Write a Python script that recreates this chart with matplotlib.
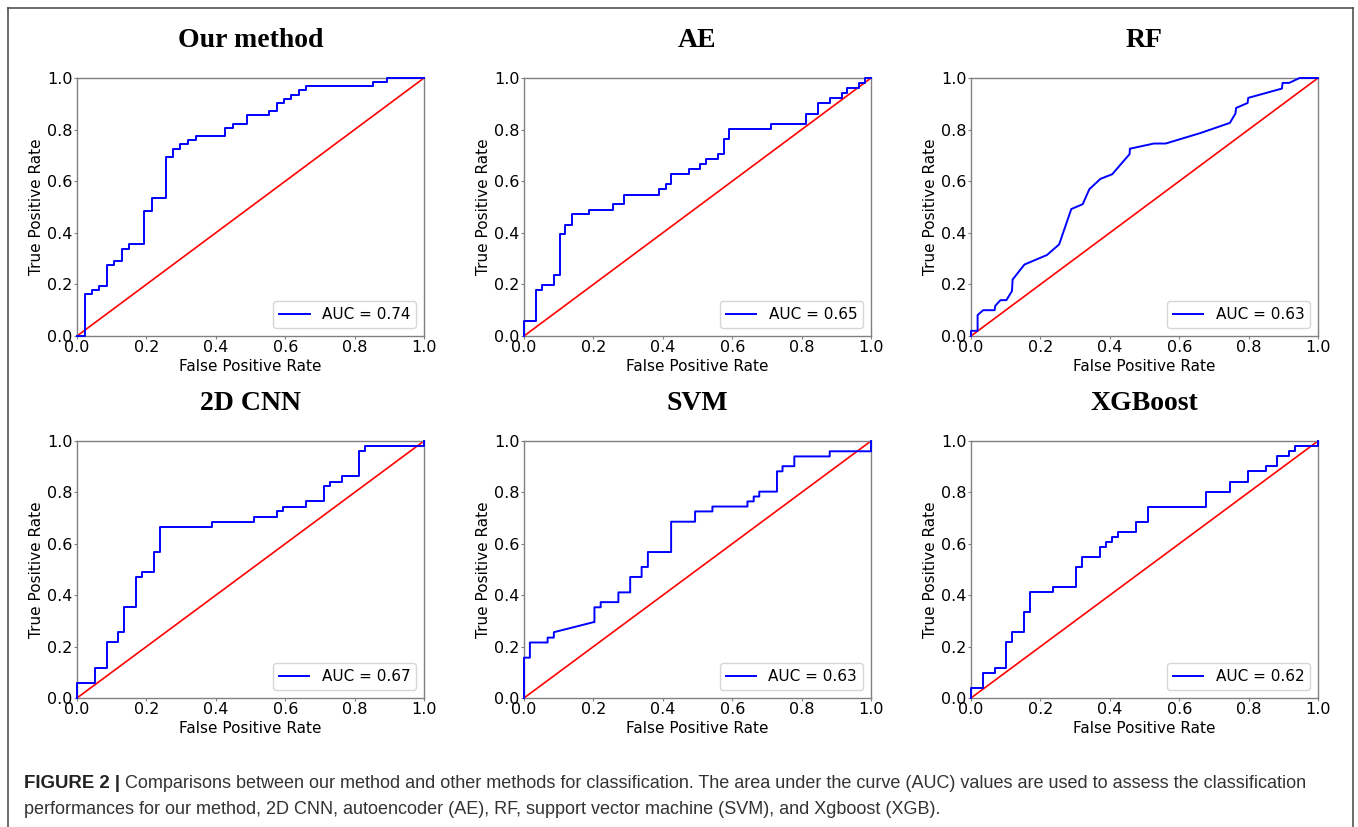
import numpy as np
import matplotlib.pyplot as plt
from matplotlib.lines import Line2D

# ROC curves
# step models: fpr = where tpr jumps, tpr = level after the jump
ours_fpr = [0, 0.023, 0.042, 0.064, 0.087, 0.108, 0.129, 0.149, 0.192, 0.215, 0.256, 0.277, 0.298, 0.320,
            0.343, 0.427, 0.449, 0.490, 0.553, 0.576, 0.597, 0.618, 0.639, 0.660, 0.852, 0.894, 1.0]
ours_tpr = [0, 0.161, 0.178, 0.195, 0.275, 0.292, 0.339, 0.356, 0.484, 0.534, 0.694, 0.726, 0.743, 0.759,
            0.774, 0.806, 0.823, 0.855, 0.871, 0.903, 0.920, 0.935, 0.952, 0.968, 0.983, 1.0, 1.0]

ae_fpr = [0, 0, 0.036, 0.052, 0.086, 0.103, 0.119, 0.137, 0.188, 0.256, 0.289, 0.390, 0.408, 0.424, 0.475,
          0.508, 0.525, 0.559, 0.575, 0.592, 0.712, 0.813, 0.847, 0.881, 0.915, 0.932, 0.965, 0.982, 1.0]
ae_tpr = [0, 0.059, 0.178, 0.196, 0.236, 0.394, 0.432, 0.471, 0.490, 0.510, 0.548, 0.569, 0.588, 0.627, 0.648,
          0.666, 0.686, 0.706, 0.765, 0.804, 0.823, 0.862, 0.902, 0.921, 0.942, 0.960, 0.979, 1.0, 1.0]

cnn_fpr = [0, 0, 0.052, 0.086, 0.119, 0.136, 0.170, 0.188, 0.221, 0.239, 0.390, 0.510, 0.577, 0.594, 0.661,
           0.712, 0.729, 0.763, 0.814, 0.831, 1.0]
cnn_tpr = [0, 0.058, 0.118, 0.216, 0.256, 0.353, 0.470, 0.490, 0.568, 0.666, 0.686, 0.705, 0.726, 0.745, 0.765,
           0.823, 0.842, 0.863, 0.960, 0.980, 1.0]

xgb_fpr = [0, 0, 0.034, 0.068, 0.101, 0.118, 0.152, 0.169, 0.236, 0.304, 0.321, 0.373, 0.390, 0.406, 0.423,
           0.475, 0.509, 0.678, 0.746, 0.797, 0.849, 0.882, 0.916, 0.933, 1.0]
xgb_tpr = [0, 0.040, 0.097, 0.118, 0.216, 0.256, 0.334, 0.411, 0.431, 0.510, 0.549, 0.587, 0.607, 0.627, 0.647,
           0.686, 0.745, 0.803, 0.842, 0.882, 0.902, 0.940, 0.961, 0.980, 1.0]

# these two have tied scores, so plain points joined by lines
rf_fpr = [0, 0, 0.019, 0.019, 0.035, 0.068, 0.070, 0.085, 0.102, 0.118, 0.120, 0.154, 0.219, 0.254, 0.289,
          0.322, 0.341, 0.373, 0.407, 0.457, 0.458, 0.527, 0.561, 0.662, 0.746, 0.762, 0.764, 0.797, 0.799,
          0.896, 0.898, 0.917, 0.947, 1.0]
rf_tpr = [0, 0.020, 0.020, 0.081, 0.100, 0.100, 0.117, 0.139, 0.139, 0.174, 0.219, 0.277, 0.314, 0.355, 0.492,
          0.511, 0.569, 0.609, 0.627, 0.705, 0.726, 0.746, 0.746, 0.787, 0.826, 0.862, 0.884, 0.903, 0.923,
          0.959, 0.981, 0.981, 1.0, 1.0]

svm_fpr = [0, 0, 0.017, 0.017, 0.068, 0.068, 0.086, 0.086, 0.200, 0.203, 0.203, 0.221, 0.221, 0.272, 0.272,
           0.306, 0.306, 0.339, 0.339, 0.357, 0.357, 0.424, 0.424, 0.493, 0.493, 0.543, 0.543, 0.644, 0.644,
           0.662, 0.662, 0.678, 0.678, 0.729, 0.729, 0.745, 0.745, 0.779, 0.779, 0.881, 0.881, 1.0, 1.0]
svm_tpr = [0, 0.157, 0.157, 0.216, 0.216, 0.235, 0.235, 0.256, 0.295, 0.295, 0.353, 0.353, 0.373, 0.373, 0.411,
           0.411, 0.471, 0.471, 0.510, 0.510, 0.568, 0.568, 0.686, 0.686, 0.726, 0.726, 0.745, 0.745, 0.765,
           0.765, 0.784, 0.784, 0.803, 0.803, 0.882, 0.882, 0.902, 0.902, 0.940, 0.940, 0.960, 0.960, 1.0]

names = ['Our method', 'AE', 'RF', '2D CNN', 'SVM', 'XGBoost']
aucs = [0.74, 0.65, 0.63, 0.67, 0.63, 0.62]
curves = [(ours_fpr, ours_tpr, 'step'), (ae_fpr, ae_tpr, 'step'), (rf_fpr, rf_tpr, 'line'),
          (cnn_fpr, cnn_tpr, 'step'), (svm_fpr, svm_tpr, 'line'), (xgb_fpr, xgb_tpr, 'step')]

W, H = 1358, 827
fig = plt.figure(figsize=(W / 100, H / 100), dpi=100)

lefts = [77, 524, 971]
rows = [(78, 336), (441, 698)]
aw = 347

for i in range(6):
    top, bot = rows[i // 3]
    ax = fig.add_axes([lefts[i % 3] / W, 1 - bot / H, aw / W, (bot - top) / H])
    fpr, tpr, kind = curves[i]
    lab = 'AUC = {:.2f}'.format(aucs[i])
    if kind == 'step':
        ax.step(fpr, tpr, where='post', color='b', lw=1.4, label=lab, zorder=3, clip_on=False)
    else:
        ax.plot(fpr, tpr, color='b', lw=1.4, label=lab, zorder=3, clip_on=False)
    ax.plot([0, 1], [0, 1], color='r', lw=1.2)
    ax.set_xlim(0, 1)
    ax.set_ylim(0, 1)
    ax.set_xticks(np.arange(0, 1.01, 0.2))
    ax.set_yticks(np.arange(0, 1.01, 0.2))
    for sp in ax.spines.values():
        sp.set_color('#808080')
        sp.set_linewidth(1.0)
    ax.tick_params(labelsize=11.5, length=2, pad=1.2, color='#808080')
    ax.set_xlabel('False Positive Rate', fontsize=11, labelpad=2.5)
    ax.set_ylabel('True Positive Rate', fontsize=11, labelpad=2)
    ax.legend(loc='lower right', fontsize=11)
    ax.set_title(names[i], fontsize=20, fontweight='bold', family='Liberation Serif', pad=22)

# caption
fig.text(24 / W, 1 - 784 / H, 'FIGURE 2 |', fontsize=13.4, fontweight='bold', color='#222222',
         family='Liberation Sans', va='center')
fig.text(125 / W, 1 - 784 / H,
         'Comparisons between our method and other methods for classification. The area under the curve (AUC) '
         'values are used to assess the classification',
         fontsize=12.95, color='#333333', family='Liberation Sans', va='center')
fig.text(24 / W, 1 - 809 / H,
         'performances for our method, 2D CNN, autoencoder (AE), RF, support vector machine (SVM), and Xgboost (XGB).',
         fontsize=12.95, color='#333333', family='Liberation Sans', va='center')

# frame around the figure panel
fc = '#444444'
fig.add_artist(Line2D([8 / W, 8 / W], [0, 1 - 8 / H], color=fc, lw=1.1))
fig.add_artist(Line2D([8 / W, 1353 / W], [1 - 8 / H, 1 - 8 / H], color=fc, lw=1.1))
fig.add_artist(Line2D([1353 / W, 1353 / W], [0, 1 - 8 / H], color=fc, lw=1.1))

fig.savefig('out.png', dpi=100)
